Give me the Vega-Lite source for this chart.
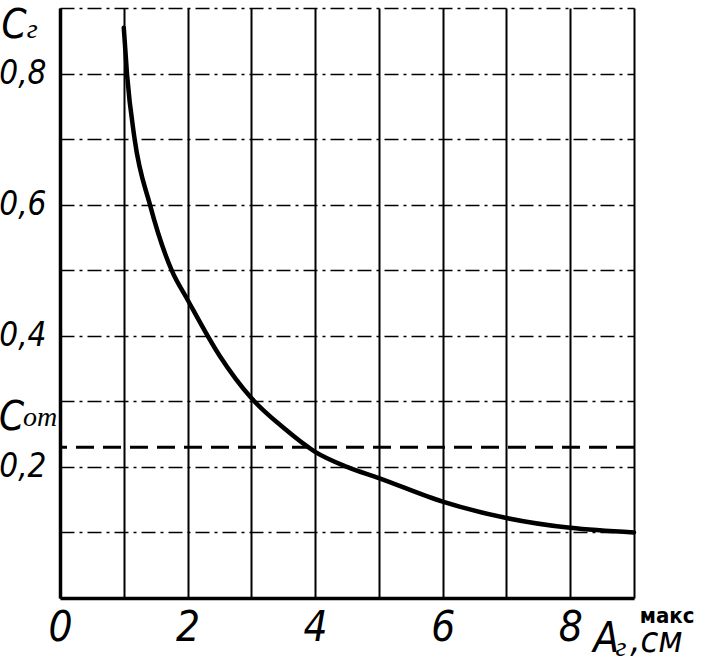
{
  "$schema": "https://vega.github.io/schema/vega-lite/v6.json",
  "width": 574,
  "height": 590,
  "autosize": "none",
  "padding": {"left": 60, "top": 8, "right": 69, "bottom": 69},
  "background": "white",
  "config": {"view": {"stroke": null}},
  "datasets": {
    "curve": [
      {"A": 1.0, "C": 0.87},
      {"A": 1.05, "C": 0.8},
      {"A": 1.17, "C": 0.7},
      {"A": 1.41, "C": 0.6},
      {"A": 1.75, "C": 0.5},
      {"A": 2.0, "C": 0.455},
      {"A": 2.5, "C": 0.37},
      {"A": 3.0, "C": 0.305},
      {"A": 3.5, "C": 0.26},
      {"A": 4.0, "C": 0.223},
      {"A": 4.5, "C": 0.2},
      {"A": 5.0, "C": 0.183},
      {"A": 6.0, "C": 0.147},
      {"A": 7.0, "C": 0.122},
      {"A": 8.0, "C": 0.107},
      {"A": 9.0, "C": 0.1}
    ],
    "level": [{"C": 0.23}],
    "bigC": [
      {"A": -0.72, "C": 0.855, "t": "C"},
      {"A": -0.76, "C": 0.256, "t": "C"}
    ],
    "subs": [
      {"A": -0.52, "C": 0.855, "t": "г"},
      {"A": -0.58, "C": 0.262, "t": "от"}
    ],
    "xtitleA": [{"A": 8.36, "C": -0.082, "t": "A"}],
    "xtitleSub": [{"A": 8.71, "C": -0.088, "t": "г"}],
    "xtitleUnit": [{"A": 8.94, "C": -0.082, "t": ",см"}],
    "xtitleSup": [{"A": 9.09, "C": -0.038, "t": "макс"}]
  },
  "layer": [
    {
      "data": {"name": "curve"},
      "mark": {"type": "line", "interpolate": "monotone", "color": "black", "strokeWidth": 4.5, "strokeCap": "round"},
      "encoding": {
        "x": {
          "field": "A", "type": "quantitative",
          "scale": {"domain": [0, 9], "nice": false, "zero": false},
          "axis": {
            "values": [0, 1, 2, 3, 4, 5, 6, 7, 8, 9],
            "format": "d",
            "title": null,
            "grid": true, "gridColor": "black", "gridWidth": 2, "gridOpacity": 1,
            "domainColor": "black", "domainWidth": 3.5,
            "ticks": false,
            "labelExpr": "datum.value % 2 == 0 ? datum.label : ''",
            "labelFont": "DejaVu Sans Condensed", "labelFontSize": 42, "labelFontStyle": "italic",
            "labelColor": "black", "labelPadding": 9, "labelFlush": false, "labelOverlap": false
          }
        },
        "y": {
          "field": "C", "type": "quantitative",
          "scale": {"domain": [0, 0.9], "nice": false, "zero": false},
          "axis": {
            "values": [0, 0.1, 0.2, 0.3, 0.4, 0.5, 0.6, 0.7, 0.8, 0.9],
            "format": ".1f",
            "title": null,
            "grid": true, "gridColor": "black", "gridWidth": 1.5, "gridOpacity": 1, "gridDash": [14, 5, 3, 5],
            "domainColor": "black", "domainWidth": 3.5,
            "ticks": false,
            "labelExpr": "indexof(['0.2','0.4','0.6','0.8'], datum.label) >= 0 ? replace(datum.label, '.', ',') : ''",
            "labelFont": "DejaVu Sans Condensed", "labelFontSize": 33, "labelFontStyle": "italic",
            "labelColor": "black", "labelPadding": 14, "labelFlush": false, "labelOverlap": false
          }
        }
      }
    },
    {
      "data": {"name": "level"},
      "mark": {"type": "rule", "color": "black", "strokeWidth": 3, "strokeDash": [18, 9]},
      "encoding": {"y": {"field": "C", "type": "quantitative"}}
    },
    {
      "data": {"name": "bigC"},
      "mark": {"type": "text", "font": "DejaVu Sans Condensed", "fontStyle": "italic", "fontSize": 40, "align": "center", "baseline": "alphabetic", "color": "black"},
      "encoding": {"x": {"field": "A", "type": "quantitative"}, "y": {"field": "C", "type": "quantitative"}, "text": {"field": "t"}}
    },
    {
      "data": {"name": "subs"},
      "mark": {"type": "text", "font": "Liberation Serif", "fontStyle": "italic", "fontSize": 28, "align": "left", "baseline": "alphabetic", "color": "black"},
      "encoding": {"x": {"field": "A", "type": "quantitative"}, "y": {"field": "C", "type": "quantitative"}, "text": {"field": "t"}}
    },
    {
      "data": {"name": "xtitleA"},
      "mark": {"type": "text", "font": "DejaVu Sans Condensed", "fontStyle": "italic", "fontSize": 42, "align": "left", "baseline": "alphabetic", "color": "black"},
      "encoding": {"x": {"field": "A", "type": "quantitative"}, "y": {"field": "C", "type": "quantitative"}, "text": {"field": "t"}}
    },
    {
      "data": {"name": "xtitleSub"},
      "mark": {"type": "text", "font": "Liberation Serif", "fontStyle": "italic", "fontSize": 28, "align": "left", "baseline": "alphabetic", "color": "black"},
      "encoding": {"x": {"field": "A", "type": "quantitative"}, "y": {"field": "C", "type": "quantitative"}, "text": {"field": "t"}}
    },
    {
      "data": {"name": "xtitleUnit"},
      "mark": {"type": "text", "font": "DejaVu Sans Condensed", "fontStyle": "italic", "fontSize": 36, "align": "left", "baseline": "alphabetic", "color": "black"},
      "encoding": {"x": {"field": "A", "type": "quantitative"}, "y": {"field": "C", "type": "quantitative"}, "text": {"field": "t"}}
    },
    {
      "data": {"name": "xtitleSup"},
      "mark": {"type": "text", "font": "DejaVu Sans Condensed", "fontWeight": "bold", "fontSize": 22, "align": "left", "baseline": "alphabetic", "color": "black"},
      "encoding": {"x": {"field": "A", "type": "quantitative"}, "y": {"field": "C", "type": "quantitative"}, "text": {"field": "t"}}
    }
  ]
}
